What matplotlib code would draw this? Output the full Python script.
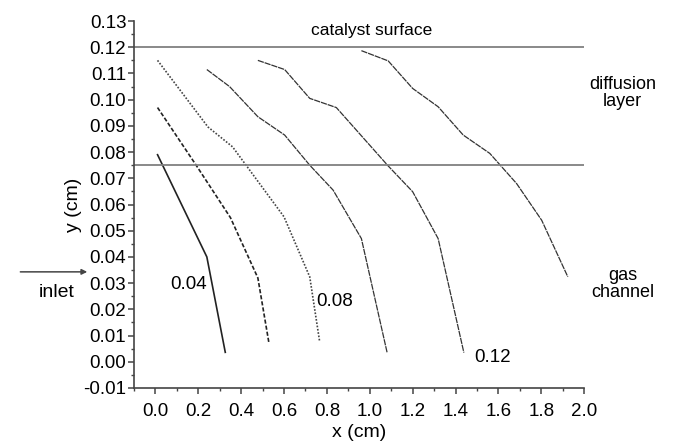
import numpy as np
import matplotlib.pyplot as plt
from matplotlib.ticker import MultipleLocator

plt.rcParams['font.family'] = ['Liberation Sans', 'DejaVu Sans']

# concentration contours (x, y in cm)
x_004 = [0.01, 0.24, 0.326]
y_004 = [0.079, 0.040, 0.0036]

x_c2 = [0.01, 0.19, 0.35, 0.478, 0.53]
y_c2 = [0.097, 0.075, 0.055, 0.032, 0.007]

x_c3 = [0.01, 0.245, 0.36, 0.60, 0.72, 0.766]
y_c3 = [0.115, 0.0896, 0.082, 0.0553, 0.0324, 0.0078]

x_008 = [0.24, 0.346, 0.478, 0.603, 0.72, 0.829, 0.961, 1.081]
y_008 = [0.1115, 0.105, 0.0935, 0.0865, 0.075, 0.0655, 0.047, 0.0035]

x_c5 = [0.478, 0.603, 0.72, 0.844, 1.085, 1.20, 1.319, 1.439]
y_c5 = [0.115, 0.1115, 0.1005, 0.097, 0.0748, 0.0649, 0.047, 0.0035]

x_012 = [0.961, 1.086, 1.20, 1.319, 1.436, 1.56, 1.685, 1.802, 1.924]
y_012 = [0.1187, 0.1148, 0.1043, 0.0973, 0.0865, 0.0795, 0.068, 0.054, 0.0324]

catalyst_y = 0.12
diffusion_y = 0.075

xticks = np.arange(0, 2.01, 0.2)
yticks = np.arange(-0.01, 0.131, 0.01)

fig = plt.figure(figsize=(6.8, 4.48), dpi=100)
ax = fig.add_axes([0.197, 0.134, 0.662, 0.819])

ax.plot(x_004, y_004, color='#222222', lw=1.2, ls='-')
ax.plot(x_c2, y_c2, color='#222222', lw=1.2, ls=(0, (2.5, 1.2)))
ax.plot(x_c3, y_c3, color='#444444', lw=1.2, ls=(0, (1, 1)))
ax.plot(x_008, y_008, color='#333333', lw=0.9, ls=(0, (5, 0.7)))
ax.plot(x_c5, y_c5, color='#333333', lw=0.9, ls=(0, (5, 0.7)))
ax.plot(x_012, y_012, color='#333333', lw=0.9, ls=(0, (5, 0.7)))

ax.axhline(catalyst_y, color='#808080', lw=1.3)
ax.axhline(diffusion_y, color='#808080', lw=1.3)

ax.set_xlim(-0.1, 2.0)
ax.set_ylim(-0.01, 0.13)
ax.xaxis.set_minor_locator(MultipleLocator(0.1))
ax.yaxis.set_minor_locator(MultipleLocator(0.005))
ax.set_xticks(xticks)
ax.set_xticklabels(['%.1f' % v for v in xticks])
ax.set_yticks(yticks)
ax.set_yticklabels(['%.2f' % v for v in yticks])

for s in ['top', 'right']:
    ax.spines[s].set_visible(False)
for s in ['left', 'bottom']:
    ax.spines[s].set_color('#444444')
    ax.spines[s].set_linewidth(1.2)
ax.tick_params(which='major', direction='out', length=4, width=1.1, color='#444444', labelsize=13.5, pad=1.5)
ax.tick_params(which='minor', direction='out', length=2.5, width=1.0, color='#444444')
ax.tick_params(axis='x', which='major', pad=7)

ax.set_xlabel('x (cm)', fontsize=14, labelpad=3)
ax.set_ylabel('y (cm)', fontsize=14, labelpad=1)

ax.text(1.01, 0.1265, 'catalyst surface', fontsize=12.5, ha='center', va='center')
ax.text(2.18, 0.1025, 'diffusion\nlayer', fontsize=13, ha='center', va='center',
        linespacing=1.0, clip_on=False)
ax.text(2.18, 0.0296, 'gas\nchannel', fontsize=13, ha='center', va='center',
        linespacing=1.0, clip_on=False)
ax.text(0.154, 0.0296, '0.04', fontsize=13.5, ha='center', va='center')
ax.text(0.836, 0.0229, '0.08', fontsize=13.5, ha='center', va='center')
ax.text(1.573, 0.0016, '0.12', fontsize=13.5, ha='center', va='center')
ax.text(-0.46, 0.0266, 'inlet', fontsize=14, ha='center', va='center', clip_on=False)
ax.annotate('', xy=(-0.318, 0.0343), xytext=(-0.63, 0.0343), annotation_clip=False,
            arrowprops=dict(arrowstyle='-|>', color='#444444', lw=1.1,
                            mutation_scale=8, shrinkA=0, shrinkB=0))

fig.savefig('out.png', dpi=100)
